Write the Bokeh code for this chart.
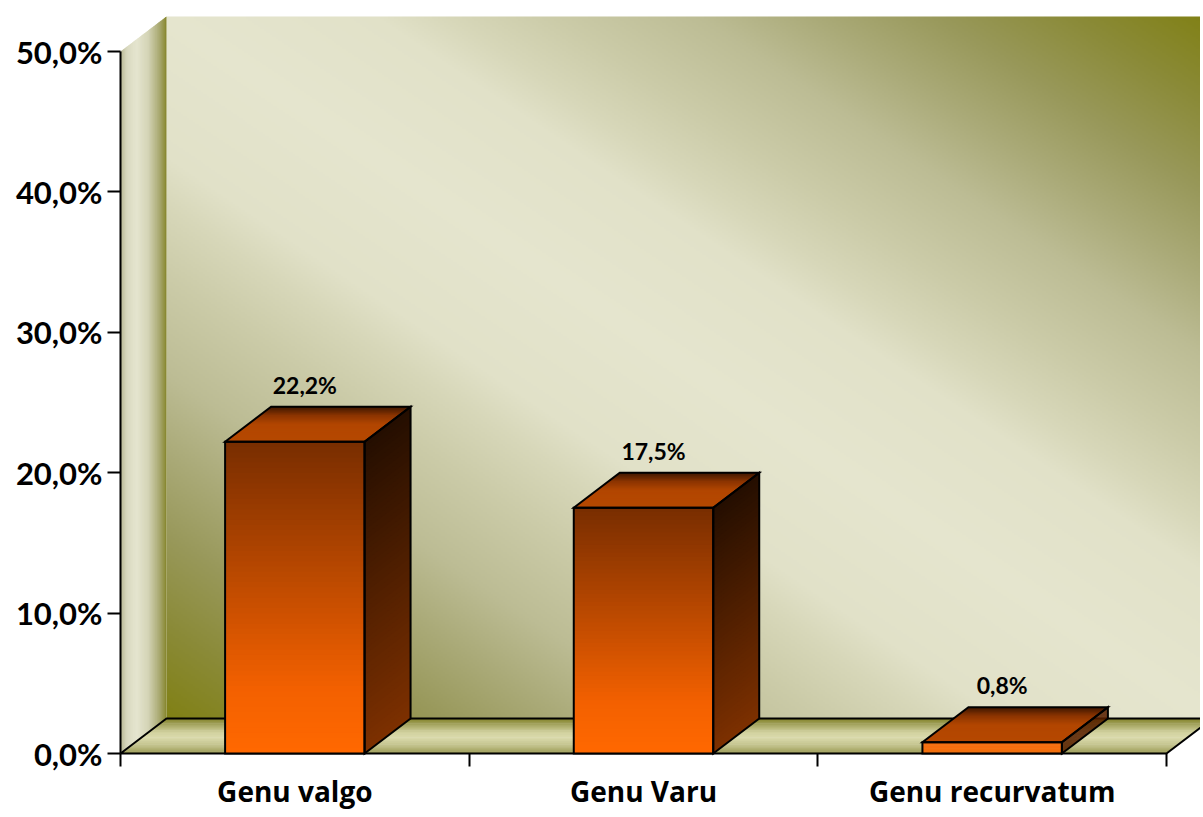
import numpy as np
from bokeh.plotting import figure
from bokeh.models import Range1d, LinearAxis, FixedTicker, CustomJSTickFormatter, Grid
from bokeh.core.properties import value
from bokeh.embed import file_html
from bokeh.resources import INLINE

# ---------------- data ----------------
categories = ["Genu valgo", "Genu Varu", "Genu recurvatum"]
percent_values = [22.2, 17.5, 0.8]
y_ticks = [0, 10, 20, 30, 40, 50]

# ---------------- geometry / scales ----------------
W, H = 1200, 812
OFFX, OFFY = 1, 1           # where the page puts the figure
AX_X, AX_Y = 121, 754       # pixel position of the (0, 0%) corner
Y_MAX = 50.0
PX_X = 1046 / 3.0           # pixels per category
PX_Y = 702 / Y_MAX          # pixels per percent
DX = 46 / PX_X              # depth offset (x) in data units
DY = 35 / PX_Y              # depth offset (y) in data units
NCAT = len(categories)
BAR_HALF = 0.2

p = figure(width=W, height=H, output_backend="svg", toolbar_location=None,
           x_range=Range1d((OFFX - AX_X) / PX_X, (OFFX + W - AX_X) / PX_X),
           y_range=Range1d((AX_Y - (OFFY + H)) / PX_Y, (AX_Y - OFFY) / PX_Y),
           x_axis_location=None, y_axis_location=None)
p.min_border = 0
p.min_border_left = 0
p.min_border_right = 0
p.min_border_top = 0
p.min_border_bottom = 0
p.outline_line_color = None
p.background_fill_color = "white"
p.border_fill_color = "white"
for r in list(p.center):
    if isinstance(r, Grid):
        r.visible = False


def ramp(stops, t):
    t = np.clip(np.asarray(t, dtype=float), 0, 1)
    pos = np.array([s[0] for s in stops])
    cols = np.array([s[1] for s in stops], dtype=float)
    return np.stack([np.interp(t, pos, cols[:, k]) for k in range(3)], axis=-1)


def hexes(arr):
    return ["#%02x%02x%02x" % tuple(int(round(c)) for c in row) for row in np.atleast_2d(arr)]


# ---------------- back wall (gradient image) ----------------
wall_stops = [(0.0, (229, 229, 206)), (0.2, (225, 225, 200)), (0.27, (215, 215, 185)),
              (0.37, (203, 203, 168)), (0.51, (188, 188, 148)), (0.62, (170, 170, 120)),
              (0.74, (152, 152, 90)), (0.87, (138, 138, 55)), (1.0, (128, 128, 20))]
IW, IH = 523, 351
u = (np.arange(IW) + 0.5) / IW
vtop = 1 - (np.arange(IH) + 0.5) / IH
tt = np.abs(u[None, :] - vtop[:, None])
rgb = ramp(wall_stops, tt)
img = np.empty((IH, IW), dtype=np.uint32)
view = img.view(dtype=np.uint8).reshape((IH, IW, 4))
for c in range(3):
    view[:, :, c] = np.round(rgb[:, :, c]).astype(np.uint8)
view[:, :, 3] = 255
p.image_rgba(image=[img], x=DX, y=DY, dw=NCAT, dh=Y_MAX)

# ---------------- side wall ----------------
side_stops = [(0.0, (185, 185, 150)), (0.15, (218, 218, 192)), (0.35, (229, 229, 207)),
              (0.6, (212, 212, 182)), (0.85, (168, 168, 112)), (1.0, (132, 132, 42))]
N = 40
xs, ys, cs = [], [], []
for k in range(N):
    d0, d1 = k / N, min(1.0, (k + 1.6) / N)
    xs.append([d0 * DX, d1 * DX, d1 * DX, d0 * DX])
    ys.append([d0 * DY, d1 * DY, Y_MAX + d1 * DY, Y_MAX + d0 * DY])
    cs.append(hexes(ramp(side_stops, (k + 0.5) / N))[0])
p.patches(xs, ys, fill_color=cs, line_color=None)

# ---------------- floor ----------------
floor_stops = [(0.0, (150, 150, 78)), (0.2, (190, 190, 135)), (0.45, (218, 218, 172)),
               (0.6, (210, 210, 160)), (0.85, (160, 160, 90)), (1.0, (130, 130, 40))]
xs, ys, cs = [], [], []
for k in range(N):
    d0, d1 = k / N, min(1.0, (k + 1.6) / N)
    xs.append([d0 * DX, NCAT + d0 * DX, NCAT + d1 * DX, d1 * DX])
    ys.append([d0 * DY, d0 * DY, d1 * DY, d1 * DY])
    cs.append(hexes(ramp(floor_stops, (k + 0.5) / N))[0])
p.patches(xs, ys, fill_color=cs, line_color=None)
p.patch([0, NCAT, NCAT + DX, DX], [0, 0, DY, DY], fill_color=None,
        line_color="black", line_width=2)

# ---------------- bars ----------------
front_stops = [(0.0, (255, 104, 0)), (0.2, (244, 97, 0)), (1.0, (120, 45, 0))]
sideb_stops = [(0.0, (125, 48, 0)), (1.0, (36, 14, 0))]
top_stops = [(0.0, (182, 72, 0)), (0.5, (178, 70, 0)), (0.75, (140, 52, 0)), (1.0, (62, 22, 0))]
NB = 60
fx, fy, fc = [], [], []
ox, oy = [], []
for i, v in enumerate(percent_values):
    x0, x1 = i + 0.5 - BAR_HALF, i + 0.5 + BAR_HALF
    k_dark = min(1.0, v / 10.0)
    # front face
    for k in range(NB):
        a, b = v * k / NB, v * min(1.0, (k + 1.6) / NB)
        fx.append([x0, x1, x1, x0]); fy.append([a, a, b, b])
        fc.append(hexes(ramp(front_stops, (k + 0.5) / NB * k_dark))[0])
    # side face
    for k in range(NB):
        a, b = v * k / NB, v * min(1.0, (k + 1.6) / NB)
        fx.append([x1, x1 + DX, x1 + DX, x1]); fy.append([a, a + DY, b + DY, b])
        s = (k + 0.5) / NB if v >= 10 else 0.35 + 0.65 * (k + 0.5) / NB * k_dark
        fc.append(hexes(ramp(sideb_stops, s))[0])
    # top face
    for k in range(30):
        d0, d1 = k / 30, min(1.0, (k + 1.6) / 30)
        fx.append([x0 + d0 * DX, x1 + d0 * DX, x1 + d1 * DX, x0 + d1 * DX])
        fy.append([v + d0 * DY, v + d0 * DY, v + d1 * DY, v + d1 * DY])
        fc.append(hexes(ramp(top_stops, (k + 0.5) / 30))[0])
    # outlines
    ox += [[x0, x1, x1, x0], [x1, x1 + DX, x1 + DX, x1], [x0, x1, x1 + DX, x0 + DX]]
    oy += [[0, 0, v, v], [0, DY, v + DY, v], [v, v, v + DY, v + DY]]
p.patches(fx, fy, fill_color=fc, line_color=None)
p.patches(ox, oy, fill_color=None, line_color="black", line_width=2, line_join="miter")

# ---------------- value labels ----------------
labels = [("%.1f" % v).replace(".", ",") + "%" for v in percent_values]
lx = [i + 0.5 + 10 / PX_X for i in range(NCAT)]
ly = [v + DY + 22 / PX_Y for v in percent_values]
p.text(x=lx, y=ly, text=labels, text_font=value("Lato"), text_font_style="bold",
       text_font_size="23px", text_align="center", text_baseline="middle", text_color="black")

# ---------------- axes ----------------
yax = LinearAxis(ticker=FixedTicker(ticks=y_ticks),
                 formatter=CustomJSTickFormatter(code="return tick.toFixed(1).replace('.', ',') + '%';"))
yax.fixed_location = 0
yax.bounds = (0, Y_MAX)
yax.axis_line_width = 2
yax.axis_line_color = "black"
yax.major_tick_line_width = 2
yax.major_tick_line_color = "black"
yax.major_tick_out = 13
yax.major_tick_in = 0
yax.minor_tick_line_color = None
yax.major_label_standoff = 5
yax.major_label_text_font = "Lato"
yax.major_label_text_font_style = "bold"
yax.major_label_text_font_size = "31px"
yax.major_label_text_color = "black"
p.add_layout(yax, "left")

cat_pos = [i + 0.5 for i in range(NCAT)]
xax = LinearAxis(ticker=FixedTicker(ticks=cat_pos, minor_ticks=list(range(NCAT + 1))))
xax.fixed_location = 0
xax.major_label_overrides = {pos: name for pos, name in zip(cat_pos, categories)}
xax.axis_line_color = None
xax.major_tick_line_color = None
xax.major_tick_out = 0
xax.major_tick_in = 0
xax.minor_tick_out = 13
xax.minor_tick_in = 0
xax.minor_tick_line_width = 2
xax.minor_tick_line_color = "black"
xax.major_label_standoff = 5
xax.major_label_text_font = "Open Sans"
xax.major_label_text_font_style = "bold"
xax.major_label_text_font_size = "28px"
xax.major_label_text_color = "black"
p.add_layout(xax, "below")

open("out.html", "w").write(file_html(p, INLINE))
